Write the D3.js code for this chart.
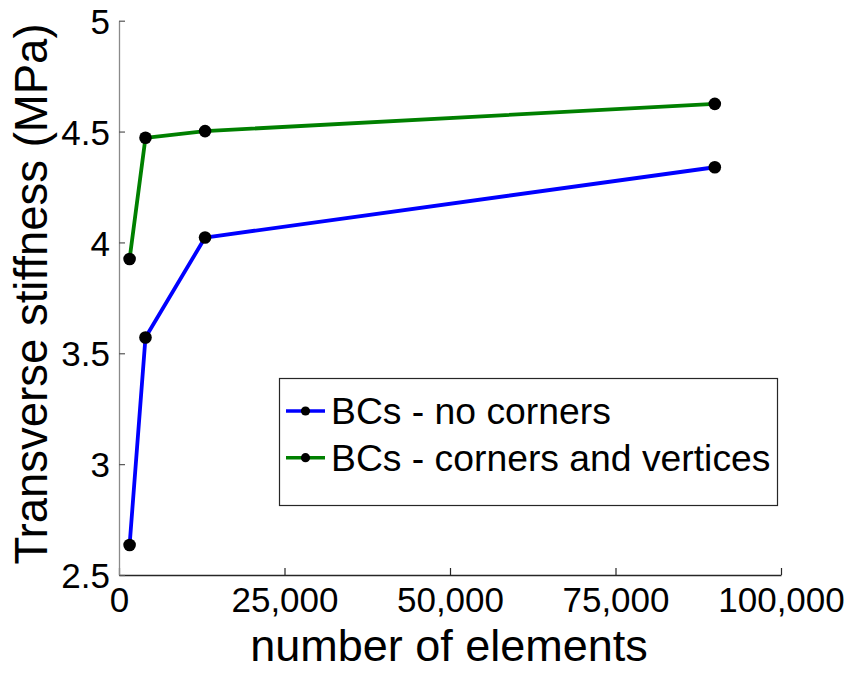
<!DOCTYPE html>
<html>
<head>
<meta charset="utf-8">
<script src="https://cdn.jsdelivr.net/npm/d3@7"></script>
<style>
  html, body { margin: 0; padding: 0; background: #fff; }
  svg { display: block; font-family: "Liberation Sans", Arial, sans-serif; }
</style>
</head>
<body>
<svg id="chart" width="854" height="673"></svg>
<script>
// Mesh convergence: transverse stiffness vs. number of elements
const elements = [1600, 4000, 13000, 90000];
const noCorners = [2.635, 3.571, 4.022, 4.339];
const cornersVertices = [3.925, 4.472, 4.502, 4.625];
const seriesNames = ["BCs - no corners", "BCs - corners and vertices"];
const seriesColors = ["#0000ff", "#008000"];
const xTicks = [0, 25000, 50000, 75000, 100000];
const yTicks = [2.5, 3, 3.5, 4, 4.5, 5];

const svg = d3.select("#chart");
const m = { left: 119, right: 781, top: 20.7, bottom: 575 };

const x = d3.scaleLinear().domain([0, 100000]).range([m.left, m.right]);
const y = d3.scaleLinear().domain([2.5, 5]).range([m.bottom, m.top]);

const series = [noCorners, cornersVertices].map((vals, i) => ({
  name: seriesNames[i],
  color: seriesColors[i],
  points: vals.map((v, j) => ({ x: elements[j], y: v }))
}));

// Axes: ticks drawn on the inside of the plot box
const xAxis = d3.axisBottom(x).tickValues(xTicks).tickSizeInner(-7).tickSizeOuter(0)
  .tickFormat(d3.format(","));
const yAxis = d3.axisLeft(y).tickValues(yTicks).tickSizeInner(-6).tickSizeOuter(0)
  .tickFormat(d => d3.format("")(d));

const gx = svg.append("g").attr("transform", `translate(0,${m.bottom})`).call(xAxis);
gx.select(".domain").attr("stroke", "#262626").attr("stroke-width", 1.3);
gx.selectAll(".tick line").attr("stroke", "#262626").attr("stroke-width", 1.2);
gx.selectAll(".tick text").attr("font-size", 35).attr("fill", "#000")
  .attr("y", 12).attr("dy", "0.71em");

const gy = svg.append("g").attr("transform", `translate(${m.left},0)`).call(yAxis);
gy.select(".domain").attr("stroke", "#8a8a8a").attr("stroke-width", 1.3);
gy.selectAll(".tick line").attr("stroke", "#555").attr("stroke-width", 1.2);
gy.selectAll(".tick text").attr("font-size", 35).attr("fill", "#000")
  .attr("x", -9).attr("dy", "0.36em");
svg.selectAll(".domain").attr("fill", "none");

// Axis titles
svg.append("text")
  .attr("x", (m.left + m.right) / 2 - 1).attr("y", 661)
  .attr("text-anchor", "middle").attr("font-size", 45).attr("fill", "#000")
  .text("number of elements");
svg.append("text")
  .attr("transform", `translate(47,294) rotate(-90)`)
  .attr("text-anchor", "middle").attr("font-size", 45.5).attr("fill", "#000")
  .text("Transverse stiffness (MPa)");

// Lines and markers
const line = d3.line().x(d => x(d.x)).y(d => y(d.y));
series.forEach(s => {
  svg.append("path").datum(s.points)
    .attr("d", line).attr("fill", "none")
    .attr("stroke", s.color).attr("stroke-width", 3.8)
    .attr("stroke-linejoin", "round");
  svg.selectAll(null).data(s.points).enter().append("circle")
    .attr("cx", d => x(d.x)).attr("cy", d => y(d.y))
    .attr("r", 6.3).attr("fill", "#000");
});

// Legend
const lg = svg.append("g");
lg.append("rect").attr("x", 279.5).attr("y", 378.5).attr("width", 498).attr("height", 127)
  .attr("fill", "#fff").attr("stroke", "#262626").attr("stroke-width", 1.2);
series.forEach((s, i) => {
  const cy = 411 + i * 46.7;
  lg.append("line").attr("x1", 286).attr("x2", 325).attr("y1", cy).attr("y2", cy)
    .attr("stroke", s.color).attr("stroke-width", 3.6);
  lg.append("circle").attr("cx", 305.5).attr("cy", cy).attr("r", 4.6).attr("fill", "#000");
  lg.append("text").attr("x", 331).attr("y", cy).attr("dy", "0.36em")
    .attr("font-size", 37.3).attr("fill", "#000").text(s.name);
});
</script>
</body>
</html>
